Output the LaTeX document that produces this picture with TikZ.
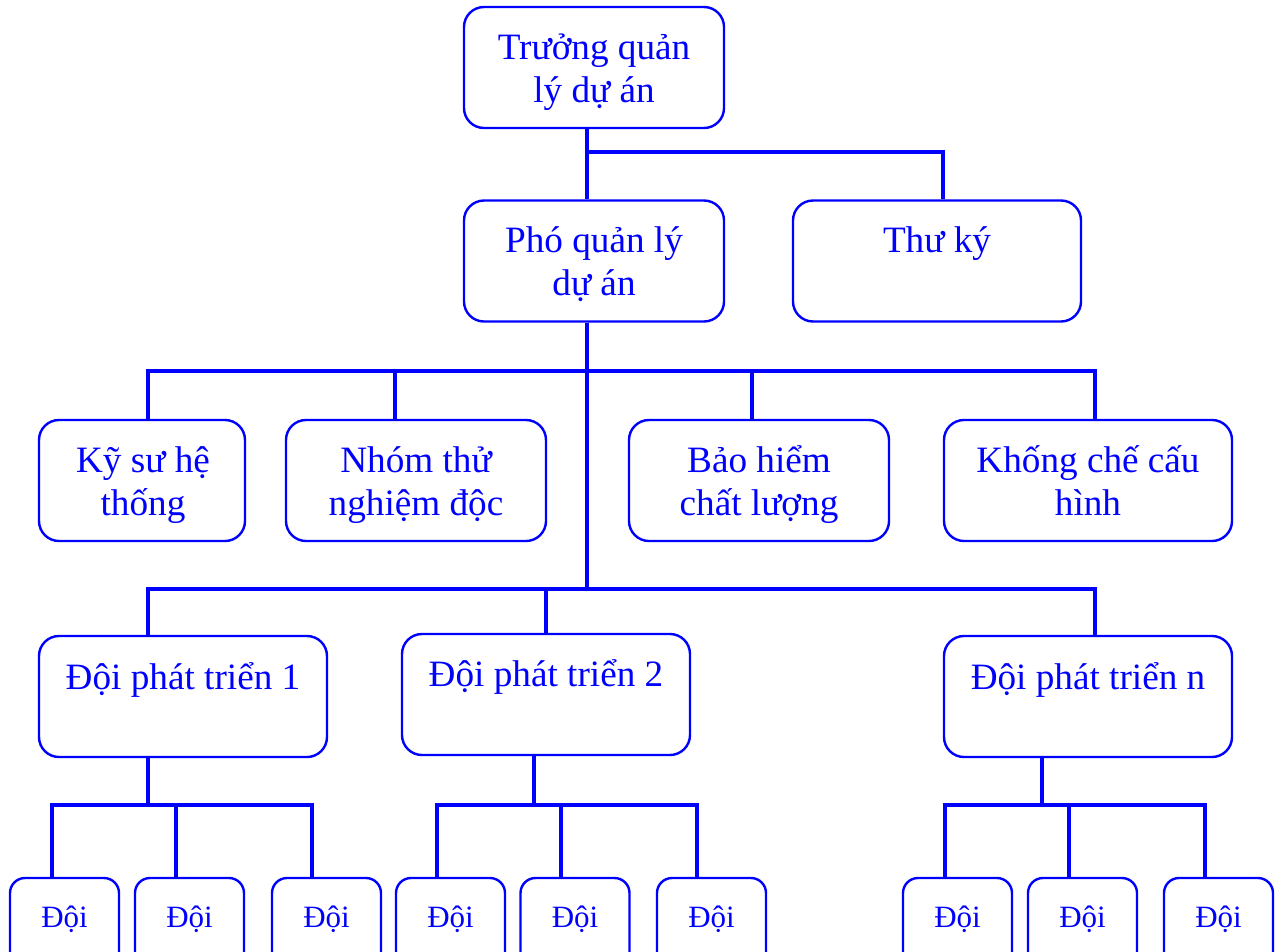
\documentclass[tikz,border=0pt]{standalone}
\usepackage{fontspec}
\setmainfont{Liberation Serif}
\definecolor{orgblue}{RGB}{0,0,255}
\begin{document}
\begin{tikzpicture}[x=1pt,y=-1pt,
  orgbox/.style={draw=orgblue, line width=2.4pt, rounded corners=20pt, inner sep=0pt, minimum height=121pt},
  smallbox/.style={orgbox, rounded corners=15pt, minimum width=109pt, minimum height=100pt},
  conn/.style={draw=orgblue, line width=4pt, line join=miter},
  lbl/.style={anchor=base, inner sep=0pt, text=orgblue, font=\fontsize{37.2}{43}\selectfont},
  slbl/.style={lbl, font=\fontsize{31}{36}\selectfont}]
\useasboundingbox (0,0) rectangle (1282,951);
\clip (0,0) rectangle (1282,951);

% --- boxes ---
\node[orgbox, minimum width=260pt] (tr) at (594,67.5) {};
\node[orgbox, minimum width=260pt] (pho) at (594,261) {};
\node[orgbox, minimum width=288pt] (thu) at (937,261) {};
\node[orgbox, minimum width=206pt] (ky) at (142,480.5) {};
\node[orgbox, minimum width=260pt] (nhom) at (416,480.5) {};
\node[orgbox, minimum width=260pt] (bao) at (759,480.5) {};
\node[orgbox, minimum width=288pt] (khong) at (1088,480.5) {};
\node[orgbox, minimum width=288pt] (d1) at (183,696.5) {};
\node[orgbox, minimum width=288pt] (d2) at (546,694.5) {};
\node[orgbox, minimum width=288pt] (dn) at (1088,696.5) {};
\node[smallbox] (s11) at (64.5,928) {};
\node[smallbox] (s12) at (189.5,928) {};
\node[smallbox] (s13) at (326.5,928) {};
\node[smallbox] (s21) at (450.5,928) {};
\node[smallbox] (s22) at (575,928) {};
\node[smallbox] (s23) at (711.5,928) {};
\node[smallbox] (sn1) at (957.5,928) {};
\node[smallbox] (sn2) at (1082.5,928) {};
\node[smallbox] (sn3) at (1218.5,928) {};

% --- labels ---
\node[lbl] (trA) at (594,59) {Trưởng quản};
\node[lbl] (trB) at (594,102) {lý dự án};
\node[lbl] (phoA) at (594,252) {Phó quản lý};
\node[lbl] (phoB) at (594,295) {dự án};
\node[lbl] (thuA) at (937,252) {Thư ký};
\node[lbl] (kyA) at (143,472) {Kỹ sư hệ};
\node[lbl] (kyB) at (143,515) {thống};
\node[lbl] (nhomA) at (416,472) {Nhóm thử};
\node[lbl] (nhomB) at (416,515) {nghiệm độc};
\node[lbl] (baoA) at (759,472) {Bảo hiểm};
\node[lbl] (baoB) at (759,515) {chất lượng};
\node[lbl] (khongA) at (1088,472) {Khống chế cấu};
\node[lbl] (khongB) at (1088,515) {hình};
\node[lbl] (d1A) at (183,689) {Đội phát triển 1};
\node[lbl] (d2A) at (546,686) {Đội phát triển 2};
\node[lbl] (dnA) at (1088,689) {Đội phát triển n};
\foreach \s in {s11,s12,s13,s21,s22,s23,sn1,sn2,sn3}
  \node[slbl] (\s t) at ([yshift=-51pt]\s.north) {Đội};

% --- connectors ---
\coordinate (sp) at (587,152);
\coordinate (tj) at (943,152);
\draw[conn] (tr.south -| sp) -- (pho.north -| sp);
\draw[conn] (sp) -- (tj) -- (tj |- thu.north);

\coordinate (m2) at (587,589);
\draw[conn] (pho.south -| sp) -- (m2);

\coordinate (a1) at (148,371);
\coordinate (a2) at (395,371);
\coordinate (a3) at (752,371);
\coordinate (a4) at (1095,371);
\draw[conn] (ky.north -| a1) -- (a1) -- (a4) -- (khong.north -| a4);
\draw[conn] (a2) -- (nhom.north -| a2);
\draw[conn] (a3) -- (bao.north -| a3);

\coordinate (b1) at (148,589);
\coordinate (b2) at (546,589);
\coordinate (b3) at (1095,589);
\draw[conn] (d1.north -| b1) -- (b1) -- (b3) -- (dn.north -| b3);
\draw[conn] (b2) -- (d2.north);

\coordinate (c1) at (148,805);
\coordinate (c11) at (52,805);
\coordinate (c12) at (176,805);
\coordinate (c13) at (312,805);
\draw[conn] (d1.south -| c1) -- (c1);
\draw[conn] (s11.north -| c11) -- (c11) -- (c13) -- (s13.north -| c13);
\draw[conn] (c12) -- (s12.north -| c12);

\coordinate (e1) at (534,805);
\coordinate (e11) at (437,805);
\coordinate (e12) at (561,805);
\coordinate (e13) at (697,805);
\draw[conn] (d2.south -| e1) -- (e1);
\draw[conn] (s21.north -| e11) -- (e11) -- (e13) -- (s23.north -| e13);
\draw[conn] (e12) -- (s22.north -| e12);

\coordinate (f1) at (1042,805);
\coordinate (f11) at (945,805);
\coordinate (f12) at (1069,805);
\coordinate (f13) at (1205,805);
\draw[conn] (dn.south -| f1) -- (f1);
\draw[conn] (sn1.north -| f11) -- (f11) -- (f13) -- (sn3.north -| f13);
\draw[conn] (f12) -- (sn2.north -| f12);
\end{tikzpicture}
\end{document}
